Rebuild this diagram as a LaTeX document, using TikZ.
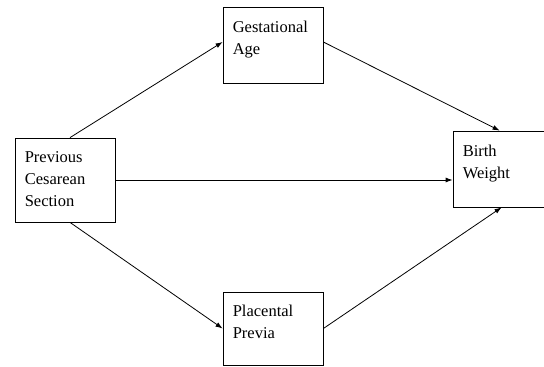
\documentclass[tikz,border=0pt]{standalone}
\usepackage{fontspec}
\setmainfont{Liberation Serif}
\usetikzlibrary{arrows.meta,positioning,calc}

\tikzset{
  box/.style={draw, line width=0.8pt, inner sep=0pt},
  boxtext/.style={anchor=north west, inner sep=0pt, align=left,
    font=\fontsize{16.5}{22}\selectfont},
  arr/.style={line width=0.8pt, -{Latex[length=7pt,width=5pt]}}
}

\begin{document}
\begin{tikzpicture}[x=1pt, y=-1pt]
    \useasboundingbox (0,0) rectangle (544,367);

    % boxes
    \node[box, minimum width=100pt, minimum height=84pt] (pcs) at (65,180) {};
    \node[box, minimum width=100pt, minimum height=76pt] (ga) at (273,45) {};
    \node[box, minimum width=100pt, minimum height=73pt] (pp) at (273,328.5) {};
    \node[box, minimum width=96pt, minimum height=76pt] (bw) at (501,169) {};

    % texts
    \node[boxtext] (pcstext) at ($(pcs.north west)+(10,14)$) {Previous\\Cesarean\\Section};
    \node[boxtext] (gatext) at ($(ga.north west)+(10,14)$) {Gestational\\Age};
    \node[boxtext] (pptext) at ($(pp.north west)+(10,13)$) {Placental\\Previa};
    \node[boxtext] (bwtext) at ($(bw.north west)+(10,14)$) {Birth\\Weight};

    % arrows
    \draw[arr] ([xshift=5pt]pcs.north) -- ([yshift=3pt]ga.west);
    \draw[arr] ([yshift=3pt]ga.east) -- ([xshift=47pt]bw.north west);
    \draw[arr] (pcs.east) -- (pcs.east -| bw.west);
    \draw[arr] ([xshift=5pt]pcs.south) -- (pp.west);
    \draw[arr] (pp.east) -- ([xshift=49pt]bw.south west);
\end{tikzpicture}
\end{document}
